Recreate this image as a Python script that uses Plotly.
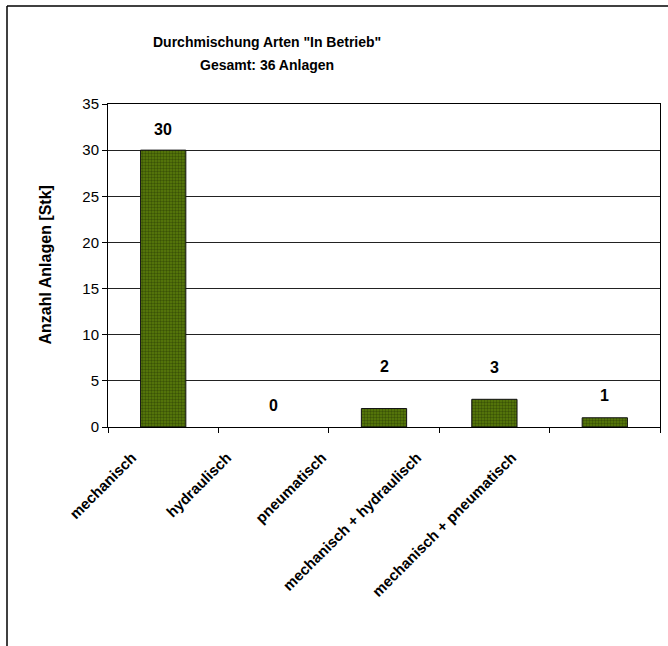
import plotly.graph_objects as go

# Anlagen "In Betrieb" nach Antriebsart
categories = [
    "mechanisch",
    "hydraulisch",
    "pneumatisch",
    "mechanisch + hydraulisch",
    "mechanisch + pneumatisch",
]
counts = [30, 0, 2, 3, 1]
y_ticks = [0, 5, 10, 15, 20, 25, 30, 35]

# vertical offset (px) of each value label above its bar
label_lift = [21, 22, 42, 32, 22]

FONT = "Liberation Sans, Arial, sans-serif"
W, H = 668, 646
L, R, T, B = 108, 8, 104, 219
pw, ph = W - L - R, H - T - B

# rotated category labels run on a slightly tighter pitch than the bars
LABEL_PITCH = 95
LABEL_FIRST = 166
lab_r0 = -(LABEL_FIRST - L) / LABEL_PITCH
lab_r1 = lab_r0 + pw / LABEL_PITCH


def px_x(x):
    return (x - L) / pw


def px_y(y):
    return (H - B - y) / ph


fig = go.Figure()
fig.add_trace(go.Bar(
    x=categories,
    y=counts,
    marker=dict(
        color="#56780c",
        line=dict(color="#111111", width=[0 if v == 0 else 1 for v in counts]),
        pattern=dict(shape=".", fgcolor="#1c2a00", bgcolor="#5a7d0c",
                     size=3, solidity=0.5, fillmode="overlay"),
    ),
    hoverinfo="skip",
))
# invisible companion trace that carries the rotated category labels on x2
fig.add_trace(go.Scatter(
    x=categories, y=counts, xaxis="x2", yaxis="y",
    mode="markers", marker=dict(opacity=0, size=1), hoverinfo="skip",
))

annotations = []
for cat, val, lift in zip(categories, counts, label_lift):
    annotations.append(dict(
        x=cat, y=val, xref="x", yref="y", text=f"<b>{val}</b>", showarrow=False,
        yshift=lift, font=dict(family=FONT, size=16, color="black"),
    ))

annotations += [
    dict(x=px_x(267), y=px_y(42), xref="paper", yref="paper",
         xanchor="center", yanchor="middle",
         text='<b>Durchmischung Arten "In Betrieb"</b>', showarrow=False,
         font=dict(family=FONT, size=14, color="black")),
    dict(x=px_x(267), y=px_y(65), xref="paper", yref="paper",
         xanchor="center", yanchor="middle",
         text="<b>Gesamt: 36 Anlagen</b>", showarrow=False,
         font=dict(family=FONT, size=14, color="black")),
    dict(x=px_x(45), y=0.5, xref="paper", yref="paper",
         xanchor="center", yanchor="middle",
         text="<b>Anzahl Anlagen [Stk]</b>", showarrow=False, textangle=-90,
         font=dict(family=FONT, size=16, color="black")),
]

fig.update_layout(
    width=W, height=H,
    margin=dict(l=L, r=R, t=T, b=B, pad=0),
    paper_bgcolor="white", plot_bgcolor="white",
    showlegend=False,
    bargap=0.59,
    annotations=annotations,
    shapes=[
        # outer chart frame (left and top edges)
        dict(type="line", xref="paper", yref="paper",
             x0=px_x(7), x1=px_x(7), y0=px_y(6), y1=px_y(660),
             line=dict(color="black", width=1.5)),
        dict(type="line", xref="paper", yref="paper",
             x0=px_x(7), x1=px_x(680), y0=px_y(6), y1=px_y(6),
             line=dict(color="black", width=1.5)),
    ],
    xaxis=dict(
        type="category",
        showline=True, linecolor="black", linewidth=1, mirror=True,
        ticks="outside", ticklen=5, tickcolor="black", tickson="boundaries",
        showticklabels=False,
        showgrid=False,
    ),
    xaxis2=dict(
        type="category", anchor="y", overlaying="x", side="bottom",
        categoryarray=categories, categoryorder="array",
        range=[lab_r0, lab_r1],
        tickvals=categories, ticktext=[f"<b>{c}</b>" for c in categories],
        tickangle=-45, ticks="", showline=False, showgrid=False, zeroline=False,
        tickfont=dict(family=FONT, size=15, color="black"),
        ticklabelshift=-34, ticklabelstandoff=18,
    ),
    yaxis=dict(
        range=[0, 35], tickvals=y_ticks,
        showline=True, linecolor="black", linewidth=1, mirror=True,
        ticks="outside", ticklen=5, tickcolor="black",
        tickfont=dict(family=FONT, size=15, color="black"),
        showgrid=True, gridcolor="#222222", gridwidth=1,
        zeroline=False,
    ),
)

fig.write_html("out.html")
